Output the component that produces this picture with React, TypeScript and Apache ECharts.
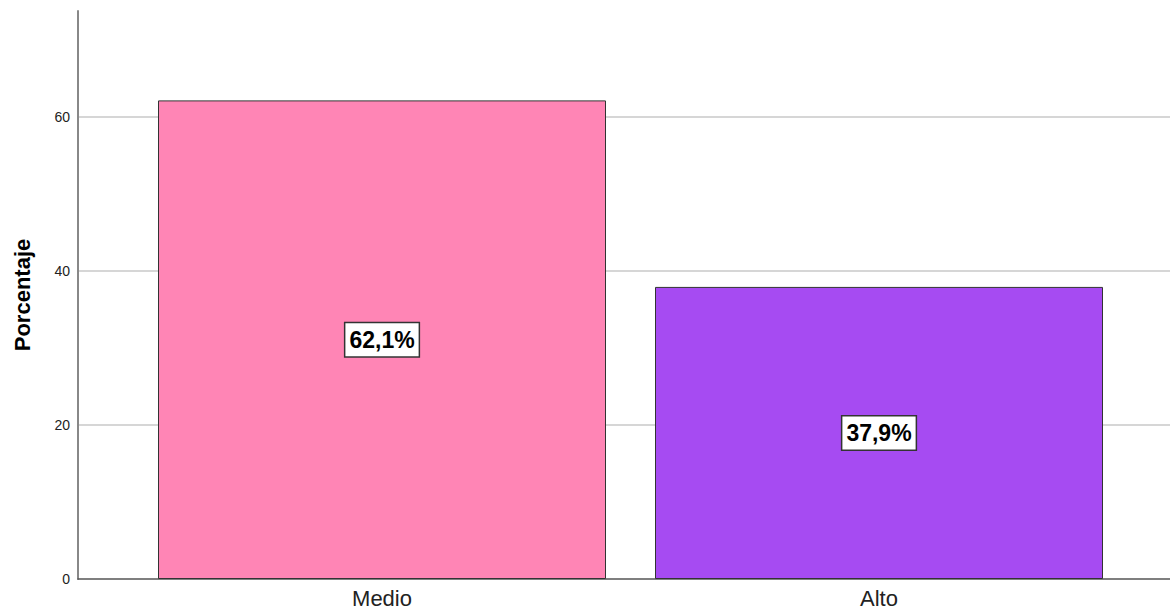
import React, { useEffect, useRef } from "react";
import * as echarts from "echarts";

const categories = ["Medio", "Alto"];
const percentValues = [62.1, 37.9];
const valueLabels = ["62,1%", "37,9%"];
const barColors = ["#FF85B5", "#A64BF2"];
const yTicks = [0, 20, 40, 60];

export default function App() {
  const ref = useRef<HTMLDivElement>(null);
  useEffect(() => {
    if (!ref.current) return;
    const chart = echarts.init(ref.current, undefined, { renderer: "svg" });
    const barData = percentValues.map((v, i) => ({
      value: [i, v],
      itemStyle: { color: barColors[i] },
    }));
    const font = "Arial, 'Liberation Sans', sans-serif";
    chart.setOption({
      animation: false,
      backgroundColor: "#ffffff",
      grid: { left: 78, right: 0, top: 11, bottom: 31, containLabel: false },
      xAxis: {
        type: "value",
        min: -0.6117,
        max: 1.5855,
        splitLine: { show: false },
        axisLine: { show: true, onZero: false, lineStyle: { color: "#555", width: 1.5 } },
        axisTick: { show: false },
        axisLabel: {
          customValues: [0, 1],
          formatter: (v: number) => categories[Math.round(v)] ?? "",
          fontFamily: font,
          fontSize: 22,
          color: "#222",
          margin: 8,
        },
      },
      yAxis: {
        type: "value",
        min: 0,
        max: 73.7,
        name: "Porcentaje",
        nameLocation: "middle",
        nameGap: 45,
        nameTextStyle: {
          fontFamily: font,
          fontSize: 22,
          fontWeight: "bold",
          color: "#000",
        },
        axisLine: { show: true, onZero: false, lineStyle: { color: "#888", width: 2 } },
        axisTick: { show: false },
        axisLabel: {
          customValues: yTicks,
          fontFamily: font,
          fontSize: 14,
          color: "#222",
          margin: 8,
        },
        splitLine: { show: false },
      },
      series: [
        {
          type: "bar",
          data: barData,
          barWidth: 448,
          itemStyle: { borderColor: "#333", borderWidth: 1 },
          label: {
            show: true,
            position: "inside",
            formatter: (p: any) => valueLabels[p.dataIndex],
            fontFamily: font,
            fontSize: 23,
            fontWeight: "bold",
            color: "#000",
            backgroundColor: "#fff",
            borderColor: "#333",
            borderWidth: 1.5,
            padding: [6, 4, 4, 4],
          },
          markLine: {
            silent: true,
            symbol: "none",
            label: { show: false },
            lineStyle: { color: "#d6d6d6", width: 2, type: "solid" },
            data: yTicks.filter((t) => t > 0).map((t) => ({ yAxis: t })),
            z: 0,
          },
          z: 2,
        },
      ],
    });
    return () => chart.dispose();
  }, []);
  return <div ref={ref} style={{ width: 1170, height: 610, position: "absolute", left: 0, top: 0 }} />;
}
